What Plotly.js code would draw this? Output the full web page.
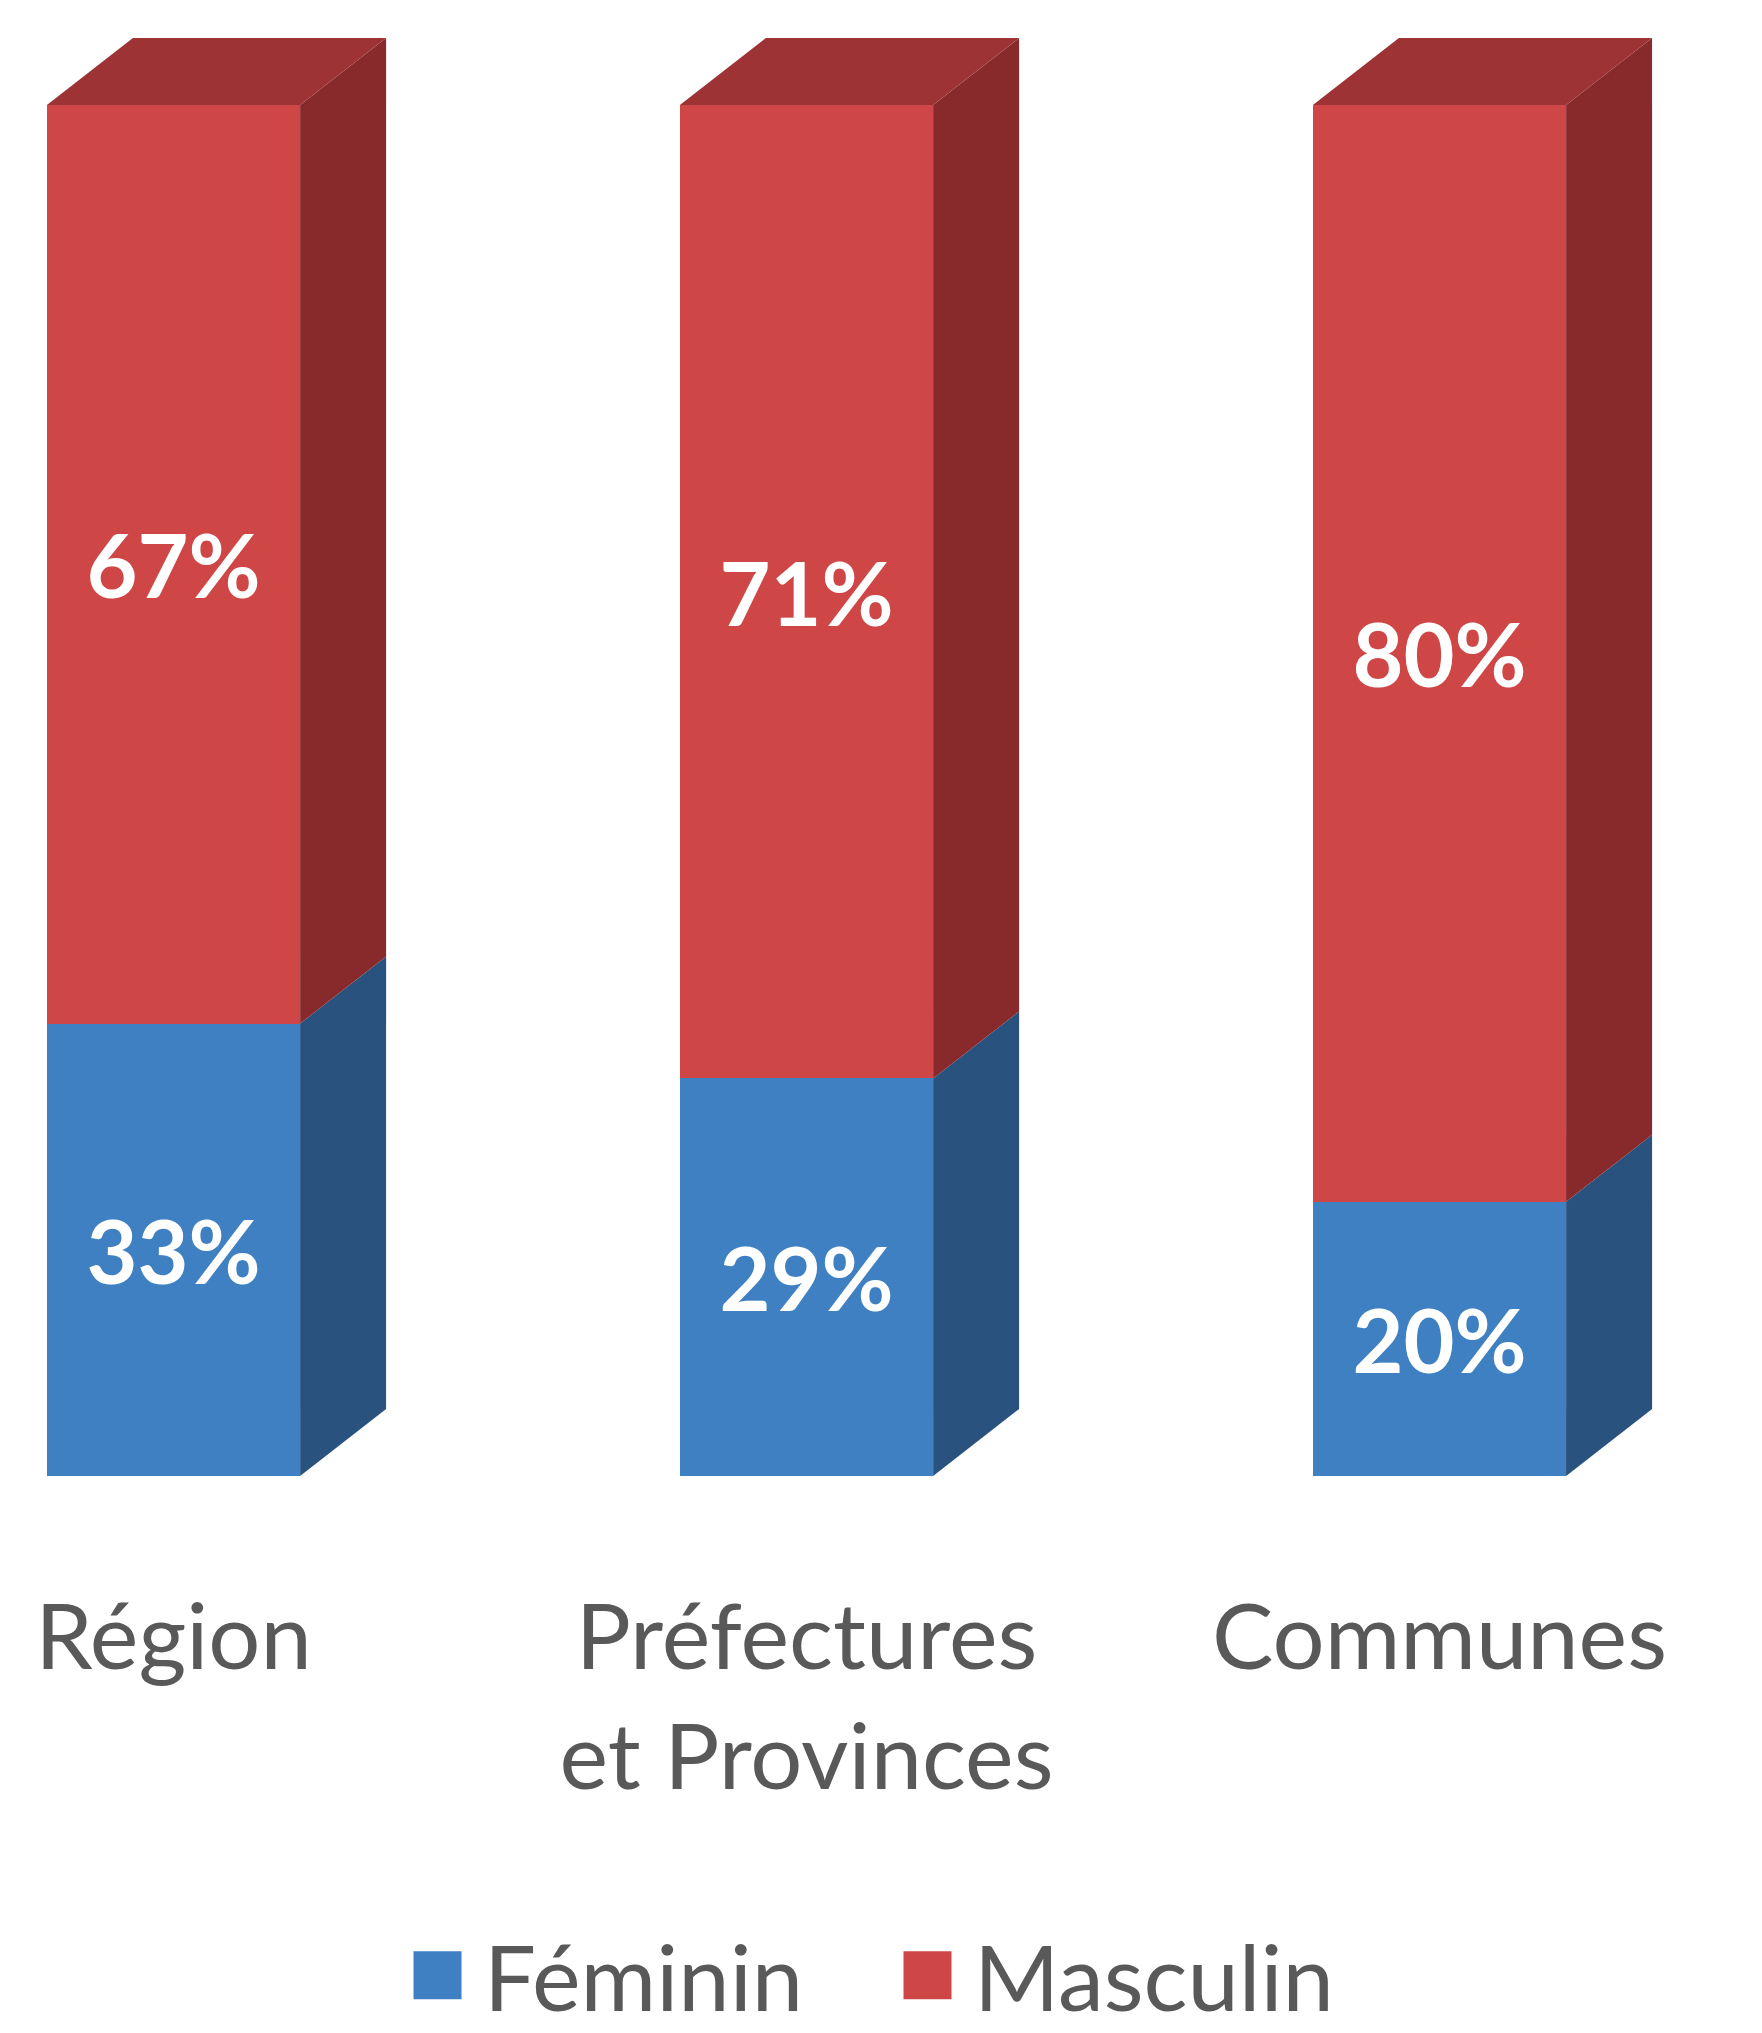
<!DOCTYPE html>
<html>
<head>
<meta charset="utf-8">
<script src="https://cdn.plot.ly/plotly-3.0.1.min.js"></script>
<style>
  html, body { margin: 0; padding: 0; background: #ffffff; }
  #chart { width: 1762px; height: 2033px; }
</style>
</head>
<body>
<div id="chart"></div>
<script>
// ---- data ----
const categories = ['Région', 'Préfectures<br>et Provinces', 'Communes'];
const seriesNames = ['Féminin', 'Masculin'];
const feminin = [33, 29, 20];
const masculin = [67, 71, 80];

// ---- styles ----
const frontColors = ['#3E80C1', '#CF4647'];
const sideColors = ['#29527F', '#882A2C'];
const topColor = '#9D3335';
const textGrey = '#595959';
const FONT = 'Lato, "Open Sans", sans-serif';

const W = 1762, H = 2033;
const margin = { l: 0, r: 0, t: 0, b: 557 };
const xRange = [-0.2741, 2.5095];
const yRange = [0, 107.66];
const barWidth = 0.4;
// 3D depth of the bars in pixels
const depthPxX = 86, depthPxY = 67;

const plotW = W - margin.l - margin.r;
const plotH = H - margin.t - margin.b;
const dx = depthPxX * (xRange[1] - xRange[0]) / plotW;
const dy = depthPxY * (yRange[1] - yRange[0]) / plotH;

const xIdx = categories.map((c, i) => i);
const seriesValues = [feminin, masculin];

const traces = seriesValues.map((vals, s) => ({
  type: 'bar',
  name: seriesNames[s],
  x: xIdx,
  y: vals,
  width: barWidth,
  marker: { color: frontColors[s], line: { width: 0 } },
  texttemplate: '%{y}%',
  textposition: 'inside',
  insidetextanchor: 'middle',
  textangle: 0,
  constraintext: 'none',
  textfont: { family: FONT, size: 88, color: '#ffffff', weight: 'bold' },
  hoverinfo: 'skip'
}));

// side and top faces computed from the stacked values
const shapes = [];
xIdx.forEach((xi, i) => {
  let base = 0;
  const xr = xi + barWidth / 2;
  const xl = xi - barWidth / 2;
  seriesValues.forEach((vals, s) => {
    const y0 = base, y1 = base + vals[i];
    shapes.push({
      type: 'path', xref: 'x', yref: 'y', layer: 'above',
      path: `M${xr},${y0} L${xr},${y1} L${xr + dx},${y1 + dy} L${xr + dx},${y0 + dy} Z`,
      fillcolor: sideColors[s], line: { width: 0 }
    });
    base = y1;
  });
  shapes.push({
    type: 'path', xref: 'x', yref: 'y', layer: 'above',
    path: `M${xl},${base} L${xr},${base} L${xr + dx},${base + dy} L${xl + dx},${base + dy} Z`,
    fillcolor: topColor, line: { width: 0 }
  });
});

const layout = {
  width: W, height: H,
  margin: margin,
  paper_bgcolor: '#ffffff',
  plot_bgcolor: '#ffffff',
  barmode: 'stack',
  showlegend: true,
  legend: {
    orientation: 'h',
    x: 0.5, xanchor: 'center',
    yref: 'container', y: 0.061, yanchor: 'top',
    font: { family: FONT, size: 92, color: textGrey },
    itemwidth: 83,
    entrywidth: 392,
    entrywidthmode: 'pixels',
    traceorder: 'normal'
  },
  xaxis: {
    type: 'linear',
    range: xRange,
    tickvals: xIdx,
    ticktext: categories,
    tickfont: { family: FONT, size: 92, color: textGrey },
    showgrid: false, zeroline: false, showline: false,
    ticks: '',
    ticklabelstandoff: 100,
    fixedrange: true
  },
  yaxis: {
    range: yRange,
    showgrid: false, zeroline: false, showline: false,
    showticklabels: false, ticks: '',
    fixedrange: true
  },
  shapes: shapes
};

Plotly.newPlot('chart', traces, layout, { displayModeBar: false, staticPlot: true }).then(gd => {
  gd.querySelectorAll('.legend .legendpoints path').forEach(p => {
    const t = p.getAttribute('transform') || '';
    p.setAttribute('transform', t + ' scale(4)');
  });
});
</script>
</body>
</html>
